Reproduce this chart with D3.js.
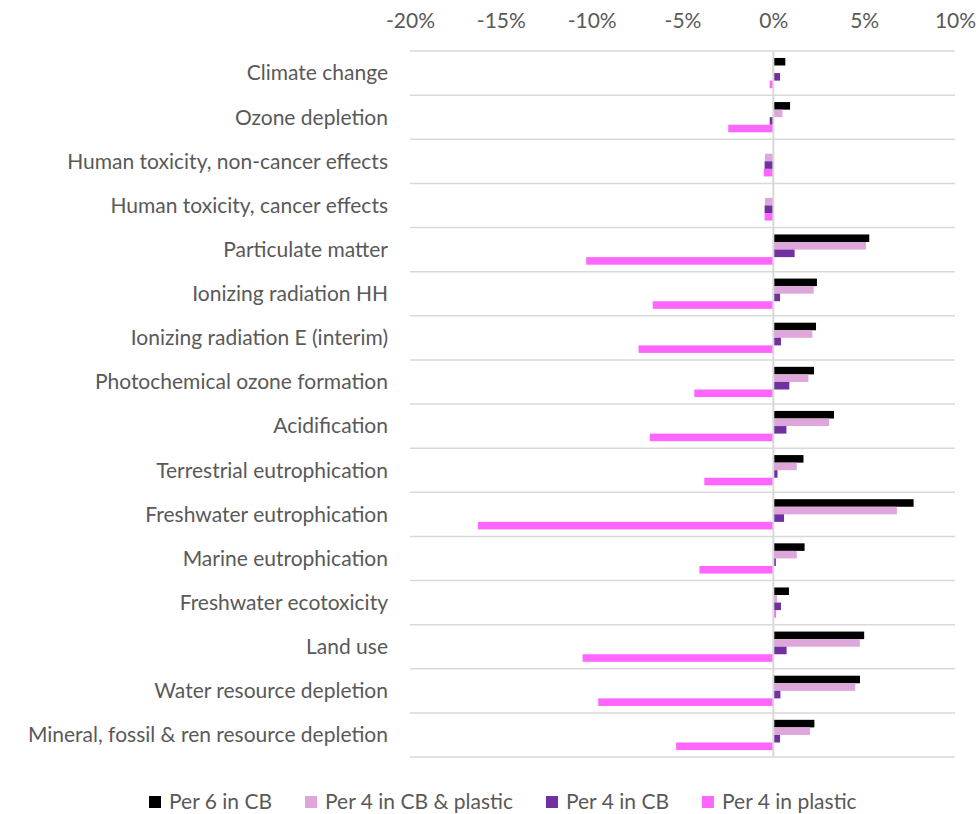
<!DOCTYPE html>
<html>
<head>
<meta charset="utf-8">
<script src="https://cdn.jsdelivr.net/npm/d3@7"></script>
<style>
  html, body { margin: 0; padding: 0; background: #ffffff; }
  svg { display: block; }
  text { font-family: Lato, "Open Sans", sans-serif; fill: #595959; }
</style>
</head>
<body>
<svg id="chart" width="978" height="814"></svg>
<script>
// Impact categories, top to bottom
const categories = [
  "Climate change",
  "Ozone depletion",
  "Human toxicity, non-cancer effects",
  "Human toxicity, cancer effects",
  "Particulate matter",
  "Ionizing radiation HH",
  "Ionizing radiation E (interim)",
  "Photochemical ozone formation",
  "Acidification",
  "Terrestrial eutrophication",
  "Freshwater eutrophication",
  "Marine eutrophication",
  "Freshwater ecotoxicity",
  "Land use",
  "Water resource depletion",
  "Mineral, fossil & ren resource depletion"
];

// Series values, in percent
const per6InCB          = [0.66, 0.92, 0.00, 0.00, 5.28, 2.40, 2.35, 2.24, 3.34, 1.66, 7.72, 1.72, 0.86, 5.00, 4.77, 2.26];
const per4InCBPlastic   = [-0.05, 0.50, -0.46, -0.46, 5.10, 2.22, 2.15, 1.93, 3.07, 1.29, 6.80, 1.29, 0.20, 4.76, 4.51, 2.02];
const per4InCB          = [0.37, -0.20, -0.48, -0.48, 1.17, 0.37, 0.42, 0.88, 0.72, 0.23, 0.59, 0.14, 0.42, 0.73, 0.39, 0.37];
const per4InPlastic     = [-0.20, -2.48, -0.53, -0.48, -10.30, -6.64, -7.42, -4.35, -6.80, -3.80, -16.26, -4.07, 0.15, -10.50, -9.64, -5.35];

const seriesNames  = ["Per 6 in CB", "Per 4 in CB & plastic", "Per 4 in CB", "Per 4 in plastic"];
const seriesColors = ["#000000", "#dea6da", "#7030a0", "#ff66ff"];
const seriesValues = [per6InCB, per4InCBPlastic, per4InCB, per4InPlastic];

const xTicks = [-20, -15, -10, -5, 0, 5, 10];

const svg = d3.select("#chart");

// Font size chosen so the longest category label spans its column
const probe = svg.append("text").attr("font-size", 20).text(categories[15]);
const probeW = probe.node().getComputedTextLength();
probe.remove();
const fontSize = Math.min(21, 20 * 374 / probeW);

const plot = { left: 410, right: 955, top: 51, bottom: 757 };

const x = d3.scaleLinear().domain([-20, 10]).range([plot.left, plot.right]);

const y = d3.scaleBand()
  .domain(categories)
  .range([plot.top, plot.bottom])
  .paddingInner(0.315)
  .paddingOuter(0.1575);

const ySub = d3.scaleBand()
  .domain(seriesNames)
  .range([0, y.bandwidth()]);

// Category separators
const step = y.step();
const bounds = d3.range(categories.length + 1).map(i => plot.top + i * step);
svg.append("g")
  .selectAll("line")
  .data(bounds)
  .join("line")
  .attr("x1", plot.left)
  .attr("x2", plot.right)
  .attr("y1", d => d)
  .attr("y2", d => d)
  .attr("stroke", "#d9d9d9")
  .attr("stroke-width", 1.5);

// Top value axis
const xAxis = d3.axisTop(x)
  .tickValues(xTicks)
  .tickFormat(d => d + "%")
  .tickSize(0)
  .tickPadding(0);

const axisG = svg.append("g")
  .attr("transform", "translate(0,28)")
  .call(xAxis);
axisG.select(".domain").remove();
axisG.selectAll("text")
  .attr("font-size", fontSize)
  .attr("font-family", "Lato, 'Open Sans', sans-serif")
  .attr("fill", "#595959")
  .attr("dy", 0);

// Category labels
svg.append("g")
  .selectAll("text")
  .data(categories)
  .join("text")
  .attr("x", 388)
  .attr("y", d => y(d) - y.paddingOuter() * step + step / 2)
  .attr("dy", "0.35em")
  .attr("text-anchor", "end")
  .attr("font-size", fontSize)
  .text(d => d);

// Bars
const rows = [];
seriesNames.forEach((s, si) => {
  categories.forEach((c, ci) => {
    rows.push({ series: s, category: c, value: seriesValues[si][ci], color: seriesColors[si] });
  });
});

svg.append("g")
  .selectAll("rect")
  .data(rows.filter(d => d.value !== 0))
  .join("rect")
  .attr("x", d => x(Math.min(0, d.value)))
  .attr("width", d => Math.abs(x(d.value) - x(0)))
  .attr("y", d => y(d.category) + ySub(d.series))
  .attr("height", ySub.bandwidth())
  .attr("fill", d => d.color);

// Zero line
svg.append("line")
  .attr("x1", x(0))
  .attr("x2", x(0))
  .attr("y1", plot.top)
  .attr("y2", plot.bottom)
  .attr("stroke", "#d9d9d9")
  .attr("stroke-width", 2);

// Legend
const legend = svg.append("g").attr("transform", "translate(0,802)");
let lx = 149;
seriesNames.forEach((s, i) => {
  const g = legend.append("g").attr("transform", `translate(${lx},0)`);
  g.append("rect")
    .attr("x", 0)
    .attr("y", -6)
    .attr("width", 12)
    .attr("height", 12)
    .attr("fill", seriesColors[i]);
  const t = g.append("text")
    .attr("x", 20)
    .attr("y", 0)
    .attr("dy", "0.35em")
    .attr("font-size", fontSize)
    .text(s);
  lx += 20 + t.node().getComputedTextLength() + 33;
});
</script>
</body>
</html>
